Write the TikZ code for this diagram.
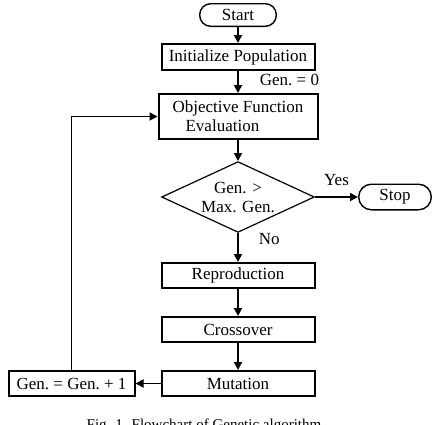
\documentclass[tikz,border=0pt]{standalone}
\usepackage{fontspec}
\setmainfont{Liberation Serif}
\usetikzlibrary{positioning,arrows.meta,shapes.geometric}

\begin{document}
\begin{tikzpicture}[
      x=1pt, y=-1pt,
      font=\fontsize{17}{19}\selectfont,
      terminal/.style={rectangle, draw, line width=1.4pt, rounded corners=11pt,
                       minimum width=76.6pt, minimum height=22.6pt, inner sep=0pt},
      process/.style={rectangle, draw, line width=2pt, minimum width=153pt,
                      minimum height=26pt, inner sep=0pt},
      decision/.style={diamond, draw, line width=1.2pt, aspect=2.1, minimum width=152.8pt,
                       minimum height=70.8pt, inner sep=0pt, align=center},
      flow/.style={-{Triangle[length=8pt,width=8pt]}, line width=1.8pt},
      lbl/.style={inner sep=0pt},
    ]
    \useasboundingbox (0,0) rectangle (434,424);
    \node[terminal] (start) at (238,15) {Start};
    \node[process, below=16pt of start] (init) {Initialize Population};
    \node[process, below=22pt of init, minimum width=159pt, minimum height=45pt, align=left] (obj)
         {Objective Function\\\hspace{13pt}Evaluation};
    \node[decision, below=21pt of obj] (dec) {Gen. >\\Max. Gen.};
    \node[terminal, right=43pt of dec, minimum width=72.6pt, minimum height=25.6pt,
          rounded corners=12.8pt] (stop) {Stop};
    \node[process, below=29pt of dec, minimum height=25pt] (repro) {Reproduction};
    \node[process, below=27pt of repro, minimum height=25pt] (cross) {Crossover};
    \node[process, below=27pt of cross, minimum height=25pt] (mut) {Mutation};
    \node[process, left=25pt of mut, minimum width=126pt, minimum height=25pt] (gen)
         {Gen.\ = Gen.\ + 1};
    \node[font=\fontsize{15}{17}\selectfont, anchor=base] (cap) at (204,429)
         {Fig. 1. Flowchart of Genetic algorithm};

    \draw[flow] (start) -- (init);
    \draw[flow] (init) -- node[lbl, pos=0.4, anchor=west, xshift=21pt] {Gen.\ = 0} (obj);
    \draw[flow] (obj) -- (dec);
    \draw[flow] (dec) -- node[lbl, above=10pt] {Yes} (stop);
    \draw[flow] (dec) -- node[lbl, pos=0.2, anchor=west, xshift=20pt] {No} (repro);
    \draw[flow] (repro) -- (cross);
    \draw[flow] (cross) -- (mut);
    \draw[flow] (mut) -- (gen);
    \draw[flow] (gen.north) |- (obj.west);
  \end{tikzpicture}
\end{document}
